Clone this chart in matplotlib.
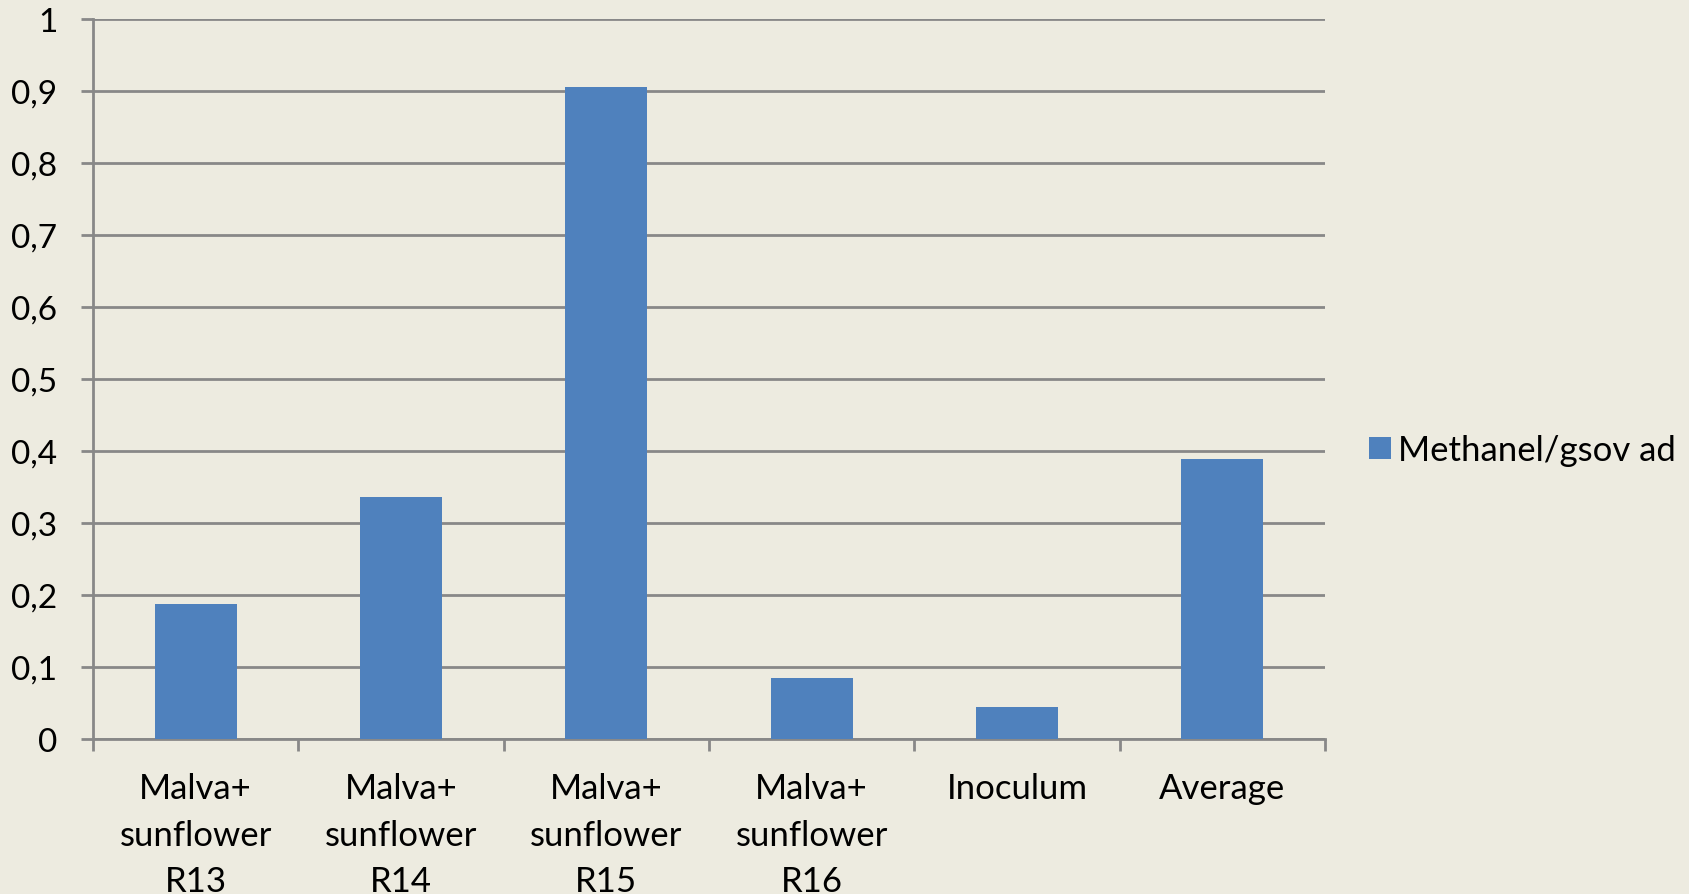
import matplotlib
matplotlib.use('Agg')
from matplotlib import pyplot as plt
import numpy as np

# categories and measured values
categories = ['Malva+\nsunflower\nR13', 'Malva+\nsunflower\nR14', 'Malva+\nsunflower\nR15',
              'Malva+\nsunflower\nR16', 'Inoculum', 'Average']
values = [0.187, 0.336, 0.906, 0.085, 0.044, 0.389]
series_name = 'Methanel/gsov ad'
yticks = [0, 0.1, 0.2, 0.3, 0.4, 0.5, 0.6, 0.7, 0.8, 0.9, 1]
ytick_labels = ['0', '0,1', '0,2', '0,3', '0,4', '0,5', '0,6', '0,7', '0,8', '0,9', '1']

bg = '#EDEBE0'
bar_color = '#4F81BD'
line_color = '#888888'

plt.rcParams['font.family'] = ['Lato', 'DejaVu Sans']

fig = plt.figure(figsize=(16.9, 8.95), dpi=100, facecolor=bg)
ax = fig.add_axes([93 / 1690, 1 - 740 / 895, (1325 - 93) / 1690, 720 / 895])
ax.set_facecolor(bg)

x = np.arange(len(categories))
ax.bar(x, values, width=0.4, color=bar_color, zorder=3, label=series_name)

ax.set_xlim(-0.5, len(categories) - 0.5)
ax.set_ylim(0, 1)

# gridlines
ax.set_yticks(yticks)
ax.set_yticklabels(ytick_labels)
ax.yaxis.grid(True, color=line_color, linewidth=2, zorder=1)
ax.tick_params(axis='y', length=8.6, width=2, color=line_color, pad=17, labelsize=24)

# category boundaries get the tick marks, labels sit at the centers
ax.set_xticks(x)
ax.set_xticklabels(categories, linespacing=1.55)
ax.set_xticks(np.arange(-0.5, len(categories)), minor=True)
ax.tick_params(axis='x', which='major', length=0, pad=24, labelsize=25)
ax.tick_params(axis='x', which='minor', length=8.6, width=2, color=line_color)

for s in ['top', 'right']:
    ax.spines[s].set_visible(False)
for s in ['left', 'bottom']:
    ax.spines[s].set_color(line_color)
    ax.spines[s].set_linewidth(2)

fig.legend(loc='center left', bbox_to_anchor=(1338 / 1690, 1 - 451 / 895),
           frameon=False, fontsize=25, handlelength=0.62, handleheight=0.62,
           handletextpad=0.2)

fig.savefig('out.png', dpi=100, facecolor=bg)
